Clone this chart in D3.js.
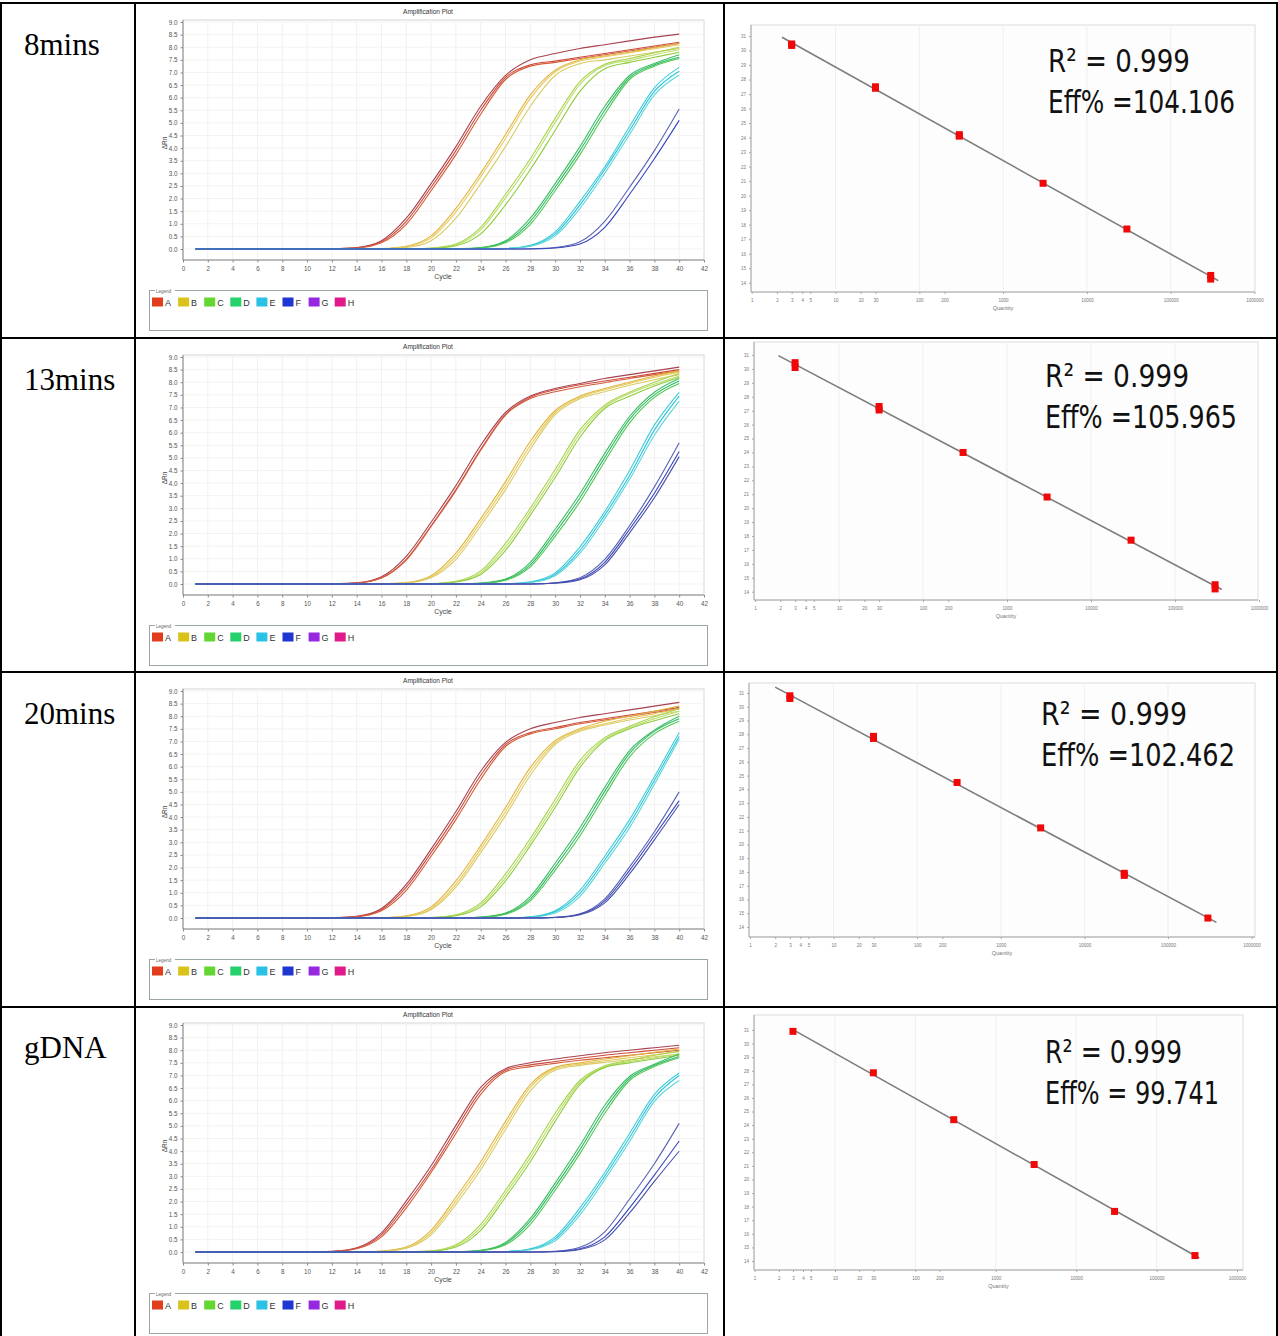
<!DOCTYPE html>
<html>
<head>
<meta charset="utf-8">
<script src="https://cdn.jsdelivr.net/npm/d3@7"></script>
<style>
  html, body { margin: 0; padding: 0; background: #fff; }
  svg { display: block; }
</style>
</head>
<body>
<svg id="fig" width="1278" height="1336"></svg>
<script>
// ---- data ----
const rowLabels = ["8mins", "13mins", "20mins", "gDNA"];

// amplification plots: dRn at these cycles, one array per well replicate
const cycles = [1, 10, 12, 14, 16, 18, 20, 22, 24, 26, 28, 30, 32, 34, 36, 38, 40];
const amp8mins = [
  ["A", [0,0,0.01,0.06,0.33,1.22,2.59,4.06,5.66,6.88,7.5,7.75,7.95,8.1,8.25,8.4,8.52]],
  ["A", [0,0,0.01,0.05,0.29,1.1,2.45,3.9,5.5,6.8,7.3,7.45,7.6,7.75,7.9,8.05,8.2]],
  ["A", [0,0,0,0.04,0.25,0.98,2.31,3.74,5.34,6.72,7.25,7.4,7.55,7.7,7.85,8.0,8.15]],
  ["B", [0,0,0,0,0.02,0.11,0.52,1.61,3.01,4.54,6.11,7.09,7.5,7.65,7.8,7.98,8.15]],
  ["B", [0,0,0,0,0.01,0.09,0.44,1.47,2.87,4.38,5.97,7.03,7.45,7.62,7.78,7.94,8.1]],
  ["B", [0,0,0,0,0.01,0.06,0.33,1.22,2.59,4.06,5.66,6.88,7.35,7.5,7.65,7.8,7.95]],
  ["C", [0,0,0,0,0,0,0.04,0.2,0.86,2.17,3.58,5.18,6.64,7.32,7.55,7.78,8.0]],
  ["C", [0,0,0,0,0,0,0.03,0.17,0.76,2.03,3.42,5.02,6.53,7.27,7.48,7.7,7.9]],
  ["C", [0,0,0,0,0,0,0.02,0.13,0.6,1.75,3.15,4.7,6.25,7.15,7.4,7.6,7.8]],
  ["D", [0,0,0,0,0,0,0,0.01,0.06,0.33,1.22,2.59,4.06,5.66,6.88,7.35,7.7]],
  ["D", [0,0,0,0,0,0,0,0,0.05,0.29,1.1,2.45,3.9,5.5,6.8,7.3,7.6]],
  ["D", [0,0,0,0,0,0,0,0,0.04,0.25,0.98,2.31,3.74,5.34,6.72,7.25,7.55]],
  ["E", [0,0,0,0,0,0,0,0,0,0.02,0.15,0.68,1.89,3.26,4.86,6.39,7.2]],
  ["E", [0,0,0,0,0,0,0,0,0,0.02,0.13,0.6,1.75,3.15,4.7,6.25,7.05]],
  ["E", [0,0,0,0,0,0,0,0,0,0.02,0.11,0.52,1.61,3.01,4.54,6.11,6.9]],
  ["F", [0,0,0,0,0,0,0,0,0,0,0.01,0.06,0.29,1.1,2.45,3.9,5.55]],
  ["F", [0,0,0,0,0,0,0,0,0,0,0,0.04,0.2,0.86,2.17,3.58,5.1]]
];
const amp13mins = [
  ["A", [0,0,0.01,0.05,0.29,1.1,2.45,3.9,5.5,6.8,7.45,7.75,7.95,8.15,8.3,8.45,8.6]],
  ["A", [0,0,0,0.04,0.25,0.98,2.31,3.74,5.34,6.72,7.4,7.7,7.9,8.05,8.2,8.35,8.5]],
  ["A", [0,0,0,0.04,0.24,0.95,2.28,3.7,5.3,6.7,7.35,7.62,7.82,7.98,8.15,8.3,8.45]],
  ["B", [0,0,0,0,0.01,0.06,0.33,1.22,2.59,4.06,5.66,6.88,7.45,7.75,8.0,8.25,8.45]],
  ["B", [0,0,0,0,0.01,0.05,0.29,1.1,2.45,3.9,5.5,6.8,7.4,7.7,7.95,8.2,8.4]],
  ["B", [0,0,0,0,0,0.04,0.25,0.98,2.31,3.74,5.34,6.72,7.35,7.62,7.88,8.1,8.3]],
  ["C", [0,0,0,0,0,0,0.02,0.11,0.52,1.61,3.01,4.54,6.11,7.09,7.6,8.0,8.35]],
  ["C", [0,0,0,0,0,0,0.01,0.09,0.44,1.47,2.87,4.38,5.97,7.03,7.55,7.92,8.25]],
  ["C", [0,0,0,0,0,0,0.01,0.08,0.38,1.33,2.73,4.22,5.82,6.96,7.44,7.85,8.2]],
  ["D", [0,0,0,0,0,0,0,0,0.04,0.2,0.86,2.17,3.58,5.18,6.64,7.6,8.15]],
  ["D", [0,0,0,0,0,0,0,0,0.03,0.17,0.76,2.03,3.42,5.02,6.53,7.5,8.05]],
  ["D", [0,0,0,0,0,0,0,0,0.02,0.15,0.68,1.89,3.26,4.86,6.39,7.4,7.95]],
  ["E", [0,0,0,0,0,0,0,0,0,0.01,0.09,0.44,1.47,2.87,4.5,6.3,7.6]],
  ["E", [0,0,0,0,0,0,0,0,0,0.01,0.07,0.38,1.33,2.73,4.3,6.1,7.45]],
  ["E", [0,0,0,0,0,0,0,0,0,0.01,0.06,0.33,1.22,2.59,4.15,5.9,7.25]],
  ["F", [0,0,0,0,0,0,0,0,0,0,0,0.05,0.25,0.98,2.31,3.85,5.6]],
  ["F", [0,0,0,0,0,0,0,0,0,0,0,0.04,0.2,0.86,2.17,3.6,5.25]],
  ["F", [0,0,0,0,0,0,0,0,0,0,0,0.03,0.17,0.76,2.03,3.42,5.05]]
];
const amp20mins = [
  ["A", [0,0,0.01,0.07,0.38,1.33,2.73,4.22,5.82,6.96,7.5,7.75,7.95,8.1,8.25,8.4,8.55]],
  ["A", [0,0,0.01,0.06,0.33,1.22,2.59,4.06,5.66,6.88,7.35,7.55,7.75,7.9,8.05,8.2,8.35]],
  ["A", [0,0,0.01,0.05,0.29,1.1,2.45,3.9,5.5,6.8,7.3,7.5,7.7,7.85,8.0,8.15,8.3]],
  ["B", [0,0,0,0,0.01,0.09,0.44,1.47,2.87,4.38,5.97,7.03,7.5,7.8,8.0,8.2,8.4]],
  ["B", [0,0,0,0,0.01,0.07,0.38,1.33,2.73,4.22,5.82,6.96,7.45,7.7,7.92,8.1,8.3]],
  ["B", [0,0,0,0,0.01,0.06,0.33,1.22,2.59,4.06,5.66,6.88,7.4,7.65,7.85,8.02,8.2]],
  ["C", [0,0,0,0,0,0,0.02,0.13,0.6,1.75,3.15,4.7,6.25,7.15,7.6,7.98,8.3]],
  ["C", [0,0,0,0,0,0,0.02,0.11,0.52,1.61,3.01,4.54,6.11,7.09,7.55,7.9,8.2]],
  ["C", [0,0,0,0,0,0,0.01,0.09,0.44,1.47,2.87,4.38,5.97,7.03,7.5,7.82,8.1]],
  ["D", [0,0,0,0,0,0,0,0,0.04,0.2,0.86,2.17,3.58,5.18,6.64,7.45,8.0]],
  ["D", [0,0,0,0,0,0,0,0,0.03,0.17,0.76,2.03,3.42,5.02,6.53,7.4,7.9]],
  ["D", [0,0,0,0,0,0,0,0,0.02,0.15,0.68,1.89,3.26,4.86,6.39,7.3,7.8]],
  ["E", [0,0,0,0,0,0,0,0,0,0,0.05,0.29,1.1,2.45,3.9,5.6,7.35]],
  ["E", [0,0,0,0,0,0,0,0,0,0,0.04,0.25,0.98,2.31,3.74,5.45,7.2]],
  ["E", [0,0,0,0,0,0,0,0,0,0,0.03,0.2,0.86,2.17,3.58,5.3,7.1]],
  ["F", [0,0,0,0,0,0,0,0,0,0,0,0.03,0.17,0.76,2.03,3.42,5.0]],
  ["F", [0,0,0,0,0,0,0,0,0,0,0,0.02,0.15,0.68,1.89,3.26,4.65]],
  ["F", [0,0,0,0,0,0,0,0,0,0,0,0.02,0.13,0.6,1.75,3.1,4.5]]
];
const ampGDNA = [
  ["A", [0,0,0.03,0.17,0.76,2.03,3.42,5.02,6.53,7.27,7.5,7.65,7.78,7.9,8.0,8.1,8.2]],
  ["A", [0,0,0.02,0.15,0.68,1.89,3.26,4.86,6.39,7.21,7.42,7.55,7.68,7.8,7.9,8.0,8.1]],
  ["A", [0,0,0.02,0.13,0.6,1.75,3.15,4.7,6.25,7.15,7.35,7.48,7.6,7.7,7.8,7.9,8.0]],
  ["B", [0,0,0,0,0.04,0.2,0.86,2.17,3.58,5.18,6.64,7.32,7.5,7.65,7.78,7.92,8.05]],
  ["B", [0,0,0,0,0.03,0.17,0.76,2.03,3.42,5.02,6.53,7.27,7.45,7.58,7.7,7.82,7.95]],
  ["B", [0,0,0,0,0.02,0.15,0.68,1.89,3.26,4.86,6.39,7.21,7.4,7.52,7.62,7.74,7.85]],
  ["C", [0,0,0,0,0,0.01,0.05,0.29,1.1,2.45,3.9,5.5,6.8,7.38,7.6,7.8,7.95]],
  ["C", [0,0,0,0,0,0,0.04,0.25,0.98,2.31,3.74,5.34,6.72,7.35,7.55,7.7,7.85]],
  ["C", [0,0,0,0,0,0,0.03,0.2,0.86,2.17,3.58,5.18,6.64,7.32,7.5,7.65,7.8]],
  ["D", [0,0,0,0,0,0,0,0.01,0.07,0.38,1.33,2.73,4.22,5.82,6.96,7.44,7.85]],
  ["D", [0,0,0,0,0,0,0,0.01,0.06,0.33,1.22,2.59,4.06,5.66,6.88,7.4,7.75]],
  ["D", [0,0,0,0,0,0,0,0,0.05,0.29,1.1,2.45,3.9,5.5,6.8,7.35,7.7]],
  ["E", [0,0,0,0,0,0,0,0,0,0.02,0.13,0.6,1.75,3.15,4.7,6.25,7.1]],
  ["E", [0,0,0,0,0,0,0,0,0,0.02,0.11,0.52,1.61,3.01,4.54,6.11,7.0]],
  ["E", [0,0,0,0,0,0,0,0,0,0.01,0.09,0.44,1.47,2.87,4.38,5.97,6.8]],
  ["F", [0,0,0,0,0,0,0,0,0,0,0,0.03,0.19,0.8,2.1,3.5,5.1]],
  ["F", [0,0,0,0,0,0,0,0,0,0,0,0.02,0.13,0.6,1.75,3.05,4.4]],
  ["F", [0,0,0,0,0,0,0,0,0,0,0,0.01,0.1,0.48,1.55,2.8,4.0]]
];
const ampRows = [amp8mins, amp13mins, amp20mins, ampGDNA];

const wells = ["A", "B", "C", "D", "E", "F", "G", "H"];
const ampXTicks = [0,2,4,6,8,10,12,14,16,18,20,22,24,26,28,30,32,34,36,38,40,42];
const ampYTicks = [0,0.5,1,1.5,2,2.5,3,3.5,4,4.5,5,5.5,6,6.5,7,7.5,8,8.5,9];

// standard curves: Ct of each replicate at each quantity
const quantities = [3, 30, 300, 3000, 30000, 300000];
const ct8mins = [[30.45, 30.35], [27.5, 27.4], [24.2, 24.1], [20.85], [17.7], [14.5, 14.25]];
const ct13mins = [[30.45, 30.1], [27.3, 27.05], [24.0], [20.8], [17.7], [14.5, 14.2]];
const ct20mins = [[30.8, 30.6], [27.85, 27.7], [24.5], [21.2], [17.9, 17.75], [14.65]];
const ctGDNA = [[30.9], [27.85], [24.4], [21.1], [17.65], [14.4]];
const ctRows = [ct8mins, ct13mins, ct20mins, ctGDNA];
const fitRanges = [[2.3, 370000], [1.9, 360000], [2.0, 380000], [3.0, 340000]];
const r2Labels = ["R\u00b2 = 0.999", "R\u00b2 = 0.999", "R\u00b2 = 0.999", "R\u00b2 = 0.999"];
const effLabels = ["Eff% =104.106", "Eff% =105.965", "Eff% =102.462", "Eff% = 99.741"];
const stdXTicks = [1, 2, 3, 4, 5, 10, 20, 30, 100, 200, 1000, 10000, 100000, 1000000];
const stdYTicks = [14,15,16,17,18,19,20,21,22,23,24,25,26,27,28,29,30,31];

// ---- styles / layout ----
const swatchColors = ["#e23d1d", "#d9c31b", "#62d631", "#24d16b", "#2ac1e6", "#1e36d2", "#9629e0", "#e01a8a"];
const lineShades = {
  A: ["#a8424e", "#cc4a3c", "#d45c38"],
  B: ["#e0b43c", "#e8c85a", "#d8cc66"],
  C: ["#a6d44a", "#bcdc6a", "#8ecc3c"],
  D: ["#3cbf5c", "#2eb86e", "#52c84e"],
  E: ["#3ccfd6", "#2cc0e2", "#5cd8d0"],
  F: ["#5a62b4", "#3444bc", "#4a50a8"]
};
const rowTop = [0, 335, 669, 1003];
const stdGeom = [
  {x1: 751.7, dec: 83.8, y31: 36, y14: 282.7, frame: [751, 25, 1255, 292], tx: 1048, ty: 72, w1: 142, w2: 187},
  {x1: 755, dec: 84, y31: 355, y14: 591.7, frame: [754, 342, 1258, 600], tx: 1045, ty: 387, w1: 144, w2: 192},
  {x1: 750, dec: 83.6, y31: 693, y14: 927, frame: [749, 683, 1255, 937], tx: 1041, ty: 725, w1: 146, w2: 194},
  {x1: 754.6, dec: 80.4, y31: 1030, y14: 1261, frame: [754, 1015, 1243, 1270], tx: 1045, ty: 1063, w1: 137, w2: 174}
];
const smallFont = "'Liberation Sans', Arial, sans-serif";

const svg = d3.select("#fig");
svg.append("rect").attr("width", 1278).attr("height", 1336).attr("fill", "#fff");

// ---- amplification plot ----
function drawAmp(g, curves) {
  const x = d3.scaleLinear().domain([0, 42]).range([183, 704]);
  const y = d3.scaleLinear().domain([0, 9]).range([249, 22]);

  g.append("text").attr("x", 428).attr("y", 14).attr("text-anchor", "middle")
    .attr("font-family", smallFont).attr("font-size", 6.5).attr("fill", "#333")
    .text("Amplification Plot");

  g.append("rect").attr("x", 183).attr("y", 20).attr("width", 521).attr("height", 240)
    .attr("fill", "#fff").attr("stroke", "#d6d6d6");

  // faint grid
  g.append("g").selectAll("line").data(ampXTicks.filter(d => d > 0 && d < 42)).join("line")
    .attr("x1", d => x(d)).attr("x2", d => x(d)).attr("y1", 20).attr("y2", 260)
    .attr("stroke", "#f1f1f1");
  g.append("g").selectAll("line").data(ampYTicks).join("line")
    .attr("x1", 183).attr("x2", 704).attr("y1", d => y(d)).attr("y2", d => y(d))
    .attr("stroke", "#f3f3f3");

  const xAxis = g.append("g").attr("transform", "translate(0,260)")
    .call(d3.axisBottom(x).tickValues(ampXTicks).tickSize(2.5).tickSizeOuter(0).tickFormat(d3.format("d")));
  const yAxis = g.append("g").attr("transform", "translate(183,0)")
    .call(d3.axisLeft(y).tickValues(ampYTicks).tickSize(2.5).tickSizeOuter(0).tickFormat(d3.format(".1f")));
  [xAxis, yAxis].forEach(a => {
    a.select(".domain").remove();
    a.selectAll(".tick line").attr("stroke", "#888");
    a.selectAll(".tick text").attr("font-family", smallFont).attr("font-size", 6.3).attr("fill", "#555");
  });
  xAxis.selectAll(".tick text").attr("dy", "0.9em");
  g.append("line").attr("x1", 183).attr("x2", 183).attr("y1", 20).attr("y2", 260).attr("stroke", "#8a8a8a");
  g.append("line").attr("x1", 183).attr("x2", 704).attr("y1", 260).attr("y2", 260).attr("stroke", "#8a8a8a");

  g.append("text").attr("x", 443).attr("y", 279).attr("text-anchor", "middle")
    .attr("font-family", smallFont).attr("font-size", 7).attr("fill", "#444").text("Cycle");
  g.append("text").attr("transform", "translate(167,143) rotate(-90)").attr("text-anchor", "middle")
    .attr("font-family", smallFont).attr("font-size", 6.5).attr("fill", "#444").text("\u0394Rn");

  const line = d3.line().x((d, i) => x(cycles[i])).y(d => y(d)).curve(d3.curveMonotoneX);
  const seen = {};
  g.append("g").attr("fill", "none").attr("stroke-width", 1.1)
    .selectAll("path").data(curves).join("path")
    .attr("stroke", d => {
      seen[d[0]] = (seen[d[0]] || 0);
      const c = lineShades[d[0]][seen[d[0]] % 3];
      seen[d[0]]++;
      return c;
    })
    .attr("d", d => line(d[1]));

  // legend
  const lg = g.append("g");
  lg.append("rect").attr("x", 149.5).attr("y", 290.5).attr("width", 558).attr("height", 40)
    .attr("fill", "none").attr("stroke", "#9aa5a8");
  lg.append("rect").attr("x", 155).attr("y", 287).attr("width", 20).attr("height", 6).attr("fill", "#fff");
  lg.append("text").attr("x", 156).attr("y", 292.5).attr("font-family", smallFont)
    .attr("font-size", 4.5).attr("fill", "#666").text("Legend");
  const item = lg.selectAll("g.item").data(wells).join("g").attr("class", "item")
    .attr("transform", (d, i) => `translate(${152 + i * 26.1},297.5)`);
  item.append("rect").attr("width", 11).attr("height", 9).attr("fill", (d, i) => swatchColors[i]);
  item.append("text").attr("x", 13).attr("y", 8.2).attr("font-family", smallFont)
    .attr("font-size", 9).attr("fill", "#333").text(d => d);
}

// ---- standard curve ----
function drawStd(g, geom, ct, fitRange, r2, eff) {
  const x = d3.scaleLog().domain([1, 1e6]).range([geom.x1, geom.x1 + 6 * geom.dec]);
  const y = d3.scaleLinear().domain([14, 31]).range([geom.y14, geom.y31]);
  const [fx0, fy0, fx1, fy1] = geom.frame;

  g.append("rect").attr("x", fx0).attr("y", fy0).attr("width", fx1 - fx0).attr("height", fy1 - fy0)
    .attr("fill", "#fdfdfd").attr("stroke", "#dcdcdc");
  g.append("g").selectAll("line").data([10, 100, 1000, 10000, 100000]).join("line")
    .attr("x1", d => x(d)).attr("x2", d => x(d)).attr("y1", fy0).attr("y2", fy1).attr("stroke", "#efefef");

  const xAxis = g.append("g").attr("transform", `translate(0,${fy1})`)
    .call(d3.axisBottom(x).tickValues(stdXTicks).tickSize(2).tickSizeOuter(0).tickFormat(d3.format("d")));
  const yAxis = g.append("g").attr("transform", `translate(${fx0},0)`)
    .call(d3.axisLeft(y).tickValues(stdYTicks).tickSize(2).tickSizeOuter(0));
  [xAxis, yAxis].forEach(a => {
    a.select(".domain").remove();
    a.selectAll(".tick line").attr("stroke", "#aaa");
    a.selectAll(".tick text").attr("font-family", smallFont).attr("font-size", 4.5).attr("fill", "#777");
  });
  xAxis.selectAll(".tick text").attr("dy", "1em");
  g.append("line").attr("x1", fx0).attr("x2", fx0).attr("y1", fy0).attr("y2", fy1).attr("stroke", "#a8a8a8");
  g.append("line").attr("x1", fx0).attr("x2", fx1).attr("y1", fy1).attr("y2", fy1).attr("stroke", "#a8a8a8");
  g.append("text").attr("x", (fx0 + fx1) / 2).attr("y", fy1 + 18).attr("text-anchor", "middle")
    .attr("font-family", smallFont).attr("font-size", 5.5).attr("fill", "#777").text("Quantity");

  // least-squares fit of Ct on log10(quantity)
  const pts = [];
  quantities.forEach((q, i) => ct[i].forEach(c => pts.push([Math.log10(q), c])));
  const mx = d3.mean(pts, p => p[0]), my = d3.mean(pts, p => p[1]);
  const slope = d3.sum(pts, p => (p[0] - mx) * (p[1] - my)) / d3.sum(pts, p => (p[0] - mx) ** 2);
  const icpt = my - slope * mx;
  g.append("line")
    .attr("x1", x(fitRange[0])).attr("y1", y(icpt + slope * Math.log10(fitRange[0])))
    .attr("x2", x(fitRange[1])).attr("y2", y(icpt + slope * Math.log10(fitRange[1])))
    .attr("stroke", "#7d7d7d").attr("stroke-width", 1.6);

  g.append("g").selectAll("rect").data(pts).join("rect")
    .attr("x", p => x(10 ** p[0]) - 3.5).attr("y", p => y(p[1]) - 3.5)
    .attr("width", 7).attr("height", 7).attr("fill", "#f00808");

  const tf = "'Liberation Sans Narrow', 'DejaVu Sans Condensed', 'Open Sans', sans-serif";
  g.append("text").attr("x", geom.tx).attr("y", geom.ty).attr("font-family", tf).attr("font-size", 32)
    .attr("fill", "#111").attr("textLength", geom.w1).attr("lengthAdjust", "spacingAndGlyphs").text(r2);
  g.append("text").attr("x", geom.tx).attr("y", geom.ty + 41).attr("font-family", tf).attr("font-size", 32)
    .attr("fill", "#111").attr("textLength", geom.w2).attr("lengthAdjust", "spacingAndGlyphs").text(eff);
}

rowLabels.forEach((lab, r) => {
  const g = svg.append("g").attr("transform", `translate(0,${rowTop[r]})`);
  drawAmp(g, ampRows[r]);
  svg.append("text").attr("x", 24).attr("y", rowTop[r] + 55)
    .attr("font-family", "'Liberation Serif', 'Times New Roman', serif").attr("font-size", 31)
    .attr("fill", "#000").text(lab);
  drawStd(svg.append("g"), stdGeom[r], ctRows[r], fitRanges[r], r2Labels[r], effLabels[r]);
});

// ---- table grid ----
const tbl = svg.append("g").attr("stroke", "#000").attr("stroke-width", 2).attr("fill", "none");
tbl.append("rect").attr("x", 1).attr("y", 3).attr("width", 1276).attr("height", 1340);
[135, 724].forEach(cx => tbl.append("line").attr("x1", cx).attr("x2", cx).attr("y1", 3).attr("y2", 1336));
[338, 672, 1007].forEach(cy => tbl.append("line").attr("x1", 1).attr("x2", 1277).attr("y1", cy).attr("y2", cy));
</script>
</body>
</html>
